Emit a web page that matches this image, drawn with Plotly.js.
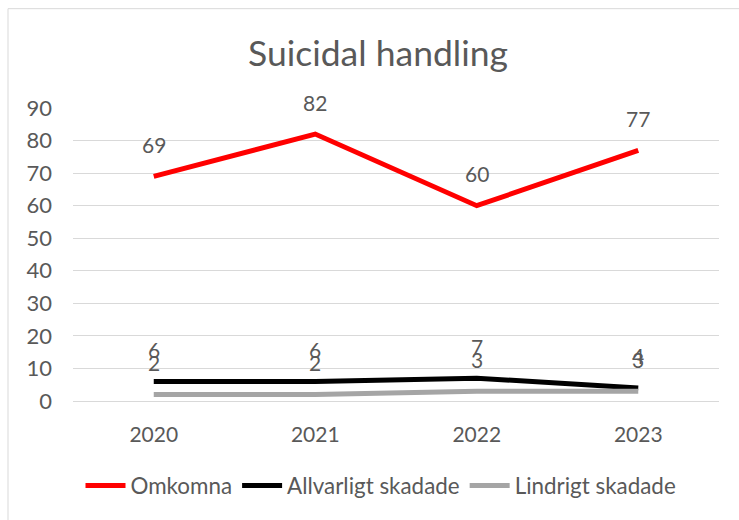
<!DOCTYPE html>
<html><head><meta charset="utf-8">
<script src="https://cdn.plot.ly/plotly-3.0.1.min.js"></script>
<style>body{margin:0;background:#fff}#c{width:739px;height:520px}</style>
</head><body><div id="c"></div>
<script>
const years = ['2020','2021','2022','2023'];
const omkomna = [69, 82, 60, 77];
const allvarligt = [6, 6, 7, 4];
const lindrigt = [2, 2, 3, 3];
const seriesNames = ['Omkomna','Allvarligt skadade','Lindrigt skadade'];
const seriesColors = ['#FF0000','#000000','#A5A5A5'];
const yTicks = [0,10,20,30,40,50,60,70,80,90];

const FONT = 'Lato, "Open Sans", sans-serif';
const TXT = '#595959';
const allSeries = [omkomna, allvarligt, lindrigt];

const traces = allSeries.map((vals, i) => ({
  type: 'scatter', mode: 'lines', x: years, y: vals, name: seriesNames[i],
  line: {color: seriesColors[i], width: 5}, cliponaxis: false
}));

const annotations = [];
allSeries.forEach(vals => {
  vals.forEach((v, j) => {
    annotations.push({x: j, y: v, xref: 'x', yref: 'y', text: String(v),
      showarrow: false, yshift: 32, font: {family: FONT, size: 21, color: TXT}});
  });
});

const layout = {
  width: 739, height: 520,
  margin: {l: 73, r: 20, t: 108, b: 117},
  paper_bgcolor: '#fff', plot_bgcolor: '#fff',
  font: {family: FONT, color: TXT, size: 21},
  title: {text: 'Suicidal handling', font: {family: FONT, size: 35.5, color: TXT},
    x: 378/739, xanchor: 'center', xref: 'container', y: 1 - 54/520, yanchor: 'middle'},
  xaxis: {type: 'category', range: [-0.5, 3.5], showgrid: false, zeroline: false,
    showline: false, ticks: '', ticklabelstandoff: 19,
    tickfont: {family: FONT, size: 21, color: TXT}, fixedrange: true},
  yaxis: {range: [0, 90], tickvals: yTicks, showgrid: true, gridcolor: '#D9D9D9', gridwidth: 1,
    zeroline: true, zerolinecolor: '#D9D9D9', zerolinewidth: 1, showline: false, ticks: '',
    ticklabelstandoff: 20, tickfont: {family: FONT, size: 22, color: TXT}, fixedrange: true},
  showlegend: true,
  legend: {orientation: 'h', x: 381/646 - 73/646, xanchor: 'center', y: -0.29, yanchor: 'middle',
    font: {family: FONT, size: 22.4, color: TXT}, itemwidth: 40, traceorder: 'normal'},
  annotations: annotations,
  shapes: [{type: 'rect', xref: 'paper', yref: 'paper', x0: -65/646, x1: 1 + 40/646,
    y0: -140/295, y1: 1 + 100/295, line: {color: '#D9D9D9', width: 1}, fillcolor: 'rgba(0,0,0,0)', layer: 'below'}]
};

Plotly.newPlot('c', traces, layout, {displayModeBar: false, staticPlot: true});
</script></body></html>
